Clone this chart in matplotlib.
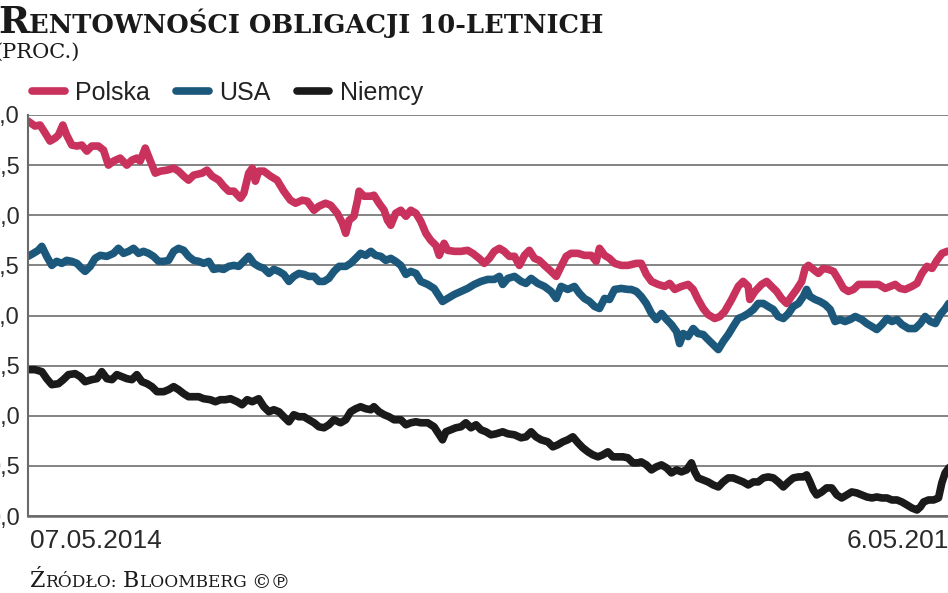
import matplotlib
matplotlib.use("Agg")
import matplotlib.pyplot as plt
import matplotlib.transforms as mtransforms
from matplotlib import font_manager

# days since 07.05.2014, 10y yields (proc.)
pl_days = [0.0, 2.7, 4.7, 6.7, 8.6, 10.6, 11.9, 13.6, 15.1, 17.1, 19.1, 21.0, 23.0, 24.9, 27.5, 29.5,
           31.4, 33.4, 36.0, 38.6, 40.6, 42.5, 43.8, 45.8, 47.8, 49.7, 51.7, 54.3, 56.9, 58.8, 60.8,
           62.7, 64.7, 68.0, 69.9, 71.9, 74.5, 76.4, 78.4, 80.4, 83.0, 84.3, 86.2, 87.6, 88.8, 90.1,
           92.1, 94.7, 97.3, 99.9, 102.5, 104.5, 107.1, 109.1, 111.7, 113.6, 116.2, 118.2, 120.8,
           122.8, 124.1, 125.4, 127.3, 128.7, 129.3, 131.2, 133.9, 135.1, 137.1, 139.1, 140.4, 141.7,
           143.6, 145.6, 147.6, 149.5, 151.5, 153.4, 155.4, 157.3, 159.3, 160.6, 162.5, 163.9, 166.5,
           169.1, 171.7, 173.7, 176.2, 178.2, 180.2, 182.1, 184.1, 186.0, 188.0, 190.0, 191.9, 193.9,
           195.8, 197.8, 199.7, 201.7, 204.3, 206.3, 208.2, 210.2, 212.1, 214.8, 217.3, 220.0, 221.9,
           223.2, 225.2, 227.1, 229.1, 231.7, 234.3, 237.6, 239.5, 241.5, 243.5, 246.1, 248.7, 250.6,
           252.6, 255.2, 257.8, 259.8, 261.7, 263.7, 265.6, 268.2, 270.2, 272.1, 274.8, 277.4, 279.3,
           281.3, 281.9, 283.9, 286.5, 288.5, 290.4, 292.4, 294.3, 296.3, 298.2, 300.2, 302.2, 303.5,
           304.8, 306.7, 308.7, 310.6, 312.6, 314.6, 316.5, 318.5, 320.4, 322.4, 324.4, 327.0, 329.6,
           332.2, 334.8, 336.8, 338.7, 340.6, 342.6, 345.2, 347.2, 349.1, 351.1, 353.1, 355.0, 357.0,
           359.0, 364.0]
pl_vals = [3.94, 3.89, 3.90, 3.82, 3.74, 3.77, 3.80, 3.90, 3.80, 3.70, 3.69, 3.70, 3.64, 3.69, 3.69, 3.65,
           3.50, 3.54, 3.57, 3.50, 3.55, 3.57, 3.54, 3.67, 3.54, 3.42, 3.44, 3.45, 3.47, 3.44, 3.39,
           3.35, 3.40, 3.42, 3.45, 3.39, 3.35, 3.29, 3.24, 3.24, 3.17, 3.22, 3.42, 3.47, 3.34, 3.44,
           3.44, 3.39, 3.35, 3.24, 3.15, 3.12, 3.15, 3.14, 3.05, 3.09, 3.12, 3.10, 3.02,
           2.92, 2.82, 2.95, 2.99, 3.15, 3.24, 3.19, 3.19, 3.20, 3.12, 3.05, 2.95, 2.90,
           3.02, 3.05, 2.99, 3.05, 3.02, 2.94, 2.82, 2.75, 2.70, 2.60, 2.72, 2.65, 2.64,
           2.64, 2.65, 2.62, 2.57, 2.52, 2.57, 2.64, 2.67, 2.64, 2.59, 2.59, 2.50, 2.60,
           2.65, 2.57, 2.55, 2.50, 2.44, 2.39, 2.49, 2.59, 2.62, 2.62, 2.60, 2.60, 2.54,
           2.67, 2.60, 2.57, 2.52, 2.50, 2.50, 2.52, 2.52, 2.41, 2.34, 2.31, 2.29, 2.32,
           2.26, 2.29, 2.31, 2.26, 2.16, 2.07, 2.01, 1.97, 1.99, 2.04, 2.16, 2.29, 2.34,
           2.29, 2.16, 2.24, 2.31, 2.34, 2.29, 2.24, 2.17, 2.12, 2.19, 2.26, 2.34, 2.47,
           2.50, 2.46, 2.42, 2.47, 2.46, 2.44, 2.36, 2.27, 2.24, 2.26, 2.31, 2.31, 2.31,
           2.31, 2.27, 2.29, 2.31, 2.27, 2.26, 2.29, 2.32, 2.42, 2.49, 2.47, 2.55, 2.62,
           2.64, 2.65]

us_days = [0.0, 2.1, 4.0, 5.4, 7.3, 9.3, 11.2, 13.2, 15.1, 17.1, 19.1, 21.0, 22.3, 24.3, 26.2, 28.2,
           30.8, 33.4, 35.3, 37.3, 39.3, 41.2, 43.2, 45.1, 47.1, 49.0, 51.0, 53.0, 54.9, 56.9, 58.8,
           60.8, 62.7, 64.7, 66.7, 68.6, 70.6, 72.5, 74.5, 76.4, 78.4, 80.4, 82.3, 84.3, 86.2, 88.2,
           90.1, 92.1, 94.1, 96.0, 98.0, 99.9, 101.9, 103.8, 105.8, 107.8, 109.7, 111.7, 113.6, 115.6,
           117.5, 119.5, 121.5, 124.1, 126.0, 128.0, 129.9, 131.9, 133.9, 135.8, 137.8, 139.7, 141.7,
           143.6, 145.6, 147.6, 149.5, 151.5, 153.4, 156.1, 158.6, 160.6, 161.9, 163.9, 166.5, 169.1,
           171.7, 174.3, 176.9, 179.5, 182.1, 184.1, 185.4, 187.4, 190.0, 192.6, 194.5, 196.5, 199.1,
           201.7, 204.3, 206.3, 208.2, 210.8, 213.4, 215.4, 217.3, 219.3, 221.3, 223.2, 225.2, 227.1,
           229.1, 231.7, 234.3, 235.6, 237.6, 239.5, 241.5, 243.5, 245.4, 247.4, 249.4, 251.3, 253.3,
           254.5, 255.9, 257.8, 259.8, 261.7, 263.7, 265.6, 267.6, 269.6, 271.5, 273.5, 275.4, 277.4,
           279.3, 281.3, 283.3, 285.2, 287.2, 289.1, 291.1, 293.0, 295.0, 297.0, 298.9, 300.9, 302.8,
           304.1, 305.4, 307.4, 309.3, 311.3, 313.3, 315.2, 317.2, 319.1, 321.1, 323.1, 325.6, 327.6,
           329.6, 331.5, 333.5, 335.5, 337.4, 339.4, 341.3, 343.9, 346.5, 348.5, 350.4, 352.4, 354.4,
           356.3, 358.3, 359.6, 364.0]
us_vals = [2.59, 2.62, 2.65, 2.69, 2.59, 2.50, 2.54, 2.52, 2.55, 2.54, 2.52, 2.47, 2.44, 2.49, 2.57, 2.60,
           2.59, 2.62, 2.67, 2.62, 2.64, 2.67, 2.62, 2.64, 2.62, 2.59, 2.54, 2.54, 2.55, 2.64, 2.67,
           2.65, 2.59, 2.55, 2.54, 2.52, 2.54, 2.46, 2.47, 2.46, 2.49, 2.50, 2.49, 2.54, 2.59, 2.52,
           2.49, 2.47, 2.42, 2.46, 2.44, 2.41, 2.34, 2.39, 2.42, 2.41, 2.39, 2.39, 2.34, 2.34,
           2.37, 2.44, 2.49, 2.49, 2.52, 2.57, 2.62, 2.60, 2.64, 2.60, 2.59, 2.55, 2.57,
           2.54, 2.50, 2.41, 2.44, 2.42, 2.34, 2.31, 2.27, 2.19, 2.14, 2.17, 2.21, 2.24,
           2.27, 2.31, 2.34, 2.36, 2.36, 2.39, 2.31, 2.37, 2.39, 2.34, 2.32, 2.37, 2.32,
           2.29, 2.24, 2.17, 2.29, 2.26, 2.29, 2.22, 2.17, 2.14, 2.09, 2.07, 2.17, 2.16,
           2.26, 2.27, 2.26, 2.26, 2.24, 2.19, 2.12, 2.02, 1.96, 2.02, 1.96, 1.91, 1.84,
           1.72, 1.82, 1.79, 1.87, 1.82, 1.81, 1.76, 1.71, 1.66, 1.74, 1.81, 1.89, 1.97,
           1.99, 2.02, 2.06, 2.12, 2.12, 2.09, 2.06, 1.99, 1.97, 2.02, 2.09, 2.12, 2.19,
           2.26, 2.19, 2.16, 2.14, 2.11, 2.06, 1.94, 1.96, 1.94, 1.96, 1.99, 1.96, 1.92,
           1.89, 1.86, 1.91, 1.97, 1.94, 1.96, 1.91, 1.87, 1.87, 1.92, 1.99, 1.94, 1.92,
           2.01, 2.07, 2.12, 2.20]

de_days = [0.0, 2.7, 5.4, 7.3, 9.3, 11.9, 13.8, 15.8, 18.4, 20.4, 22.3, 24.9, 26.9, 28.8, 30.8, 32.8,
           34.7, 36.7, 38.6, 40.6, 42.5, 44.5, 46.5, 48.4, 50.4, 53.0, 54.9, 56.9, 58.8, 60.8, 62.7,
           64.7, 66.7, 68.6, 71.2, 73.2, 75.1, 77.1, 79.1, 81.7, 83.6, 85.6, 87.6, 90.1, 92.1, 94.1,
           96.0, 98.0, 99.9, 101.9, 103.8, 105.8, 107.8, 109.7, 111.7, 113.6, 115.6, 117.5, 119.5,
           122.1, 124.1, 126.0, 128.0, 129.9, 131.9, 133.9, 135.1, 137.1, 139.1, 141.0, 143.0, 145.6,
           147.6, 149.5, 151.5, 153.4, 156.1, 158.6, 160.6, 161.9, 163.2, 165.2, 167.1, 169.1, 171.0,
           173.0, 175.0, 176.9, 178.9, 180.8, 182.8, 185.4, 187.4, 190.0, 192.6, 194.5, 196.5, 198.4,
           200.4, 203.0, 205.0, 206.9, 208.9, 210.8, 212.8, 214.8, 216.7, 218.7, 220.6, 222.6, 224.5,
           226.5, 228.4, 230.4, 232.4, 234.3, 236.3, 238.2, 239.5, 241.5, 243.5, 245.4, 247.4, 249.4,
           251.3, 253.3, 255.2, 257.2, 259.1, 260.4, 261.7, 263.7, 265.6, 267.6, 269.6, 271.5, 273.5,
           275.4, 277.4, 279.3, 281.3, 283.3, 285.2, 287.2, 289.1, 291.1, 293.0, 295.0, 297.0, 298.9,
           300.9, 302.8, 304.1, 305.4, 306.7, 308.0, 310.0, 311.9, 313.9, 315.9, 317.8, 319.8, 321.7,
           323.7, 325.6, 327.6, 329.6, 331.5, 333.5, 335.5, 337.4, 339.4, 341.3, 343.3, 345.2, 347.2,
           348.5, 349.8, 351.7, 353.7, 355.6, 356.9, 358.2, 359.6, 364.0]
de_vals = [1.46, 1.46, 1.44, 1.37, 1.31, 1.32, 1.36, 1.41, 1.42, 1.39, 1.34, 1.36, 1.37, 1.44, 1.37, 1.36,
           1.41, 1.39, 1.37, 1.36, 1.41, 1.34, 1.32, 1.29, 1.24, 1.24, 1.26, 1.29, 1.26, 1.22, 1.19,
           1.19, 1.19, 1.17, 1.16, 1.14, 1.16, 1.16, 1.17, 1.14, 1.11, 1.16, 1.14, 1.17, 1.09, 1.04,
           1.06, 1.04, 0.99, 0.94, 1.01, 0.99, 0.99, 0.96, 0.93, 0.89, 0.88, 0.91, 0.96,
           0.93, 0.96, 1.04, 1.07, 1.09, 1.07, 1.06, 1.09, 1.04, 1.01, 0.99, 0.96, 0.96,
           0.91, 0.93, 0.94, 0.93, 0.93, 0.89, 0.81, 0.76, 0.84, 0.86, 0.88, 0.89, 0.93,
           0.88, 0.91, 0.86, 0.84, 0.81, 0.82, 0.84, 0.82, 0.81, 0.78, 0.79, 0.84, 0.79,
           0.76, 0.74, 0.69, 0.71, 0.74, 0.76, 0.79, 0.73, 0.68, 0.64, 0.61, 0.59, 0.61,
           0.64, 0.59, 0.59, 0.59, 0.58, 0.53, 0.53, 0.54, 0.51, 0.46, 0.49, 0.51, 0.48,
           0.43, 0.46, 0.44, 0.46, 0.53, 0.44, 0.38, 0.36, 0.34, 0.31, 0.29, 0.34, 0.38,
           0.38, 0.36, 0.34, 0.31, 0.34, 0.34, 0.38, 0.39, 0.38, 0.34, 0.29, 0.34, 0.38,
           0.39, 0.39, 0.41, 0.34, 0.26, 0.21, 0.24, 0.28, 0.28, 0.21, 0.18, 0.21, 0.24,
           0.23, 0.21, 0.19, 0.18, 0.19, 0.18, 0.18, 0.16, 0.16, 0.14, 0.11, 0.08, 0.06,
           0.09, 0.14, 0.16, 0.16, 0.18, 0.33, 0.43, 0.48, 0.58]

series = [("Polska", pl_days, pl_vals, "#c8325c"),
          ("USA", us_days, us_vals, "#1b587c"),
          ("Niemcy", de_days, de_vals, "#1a1a1a")]

date_labels = ["07.05.2014", "6.05.2015"]
y_ticks = [0, 0.5, 1, 1.5, 2, 2.5, 3, 3.5, 4]

# condensed sans if we have it
names = {f.name for f in font_manager.fontManager.ttflist}
sans = ["Liberation Sans Narrow"] if "Liberation Sans Narrow" in names else ["Liberation Sans"]
serif = ["DejaVu Serif", "DejaVu Sans"]

W, H = 948, 593
fig = plt.figure(figsize=(W / 100, H / 100), dpi=100)
ax = fig.add_axes([28 / W, 1 - 516 / H, 932 / W, 401 / H])

for name, d, v, c in series:
    ax.plot(d, v, color=c, lw=5.5, label=name, solid_capstyle="round", solid_joinstyle="round")

ax.set_xlim(0, 364)
ax.set_ylim(0, 4)
ax.set_yticks(y_ticks)
ax.set_yticklabels([("%.1f" % t).replace(".", ",") for t in y_ticks],
                   family=sans, fontsize=17, color="#2a2a2a")
ax.set_xticks([0, 364])
ax.set_xticklabels(date_labels, family=sans, fontsize=19, color="#2a2a2a")
ax.tick_params(axis="both", length=0)
ax.tick_params(axis="x", pad=9)
ax.tick_params(axis="y", pad=6)
xl = ax.get_xticklabels()
xl[0].set_ha("left")
xl[1].set_ha("right")
# nudge: first label starts on the axis, last one runs past the right edge
xl[0].set_transform(xl[0].get_transform() + mtransforms.ScaledTranslation(2 / 100, 0, fig.dpi_scale_trans))
xl[1].set_transform(xl[1].get_transform() + mtransforms.ScaledTranslation(4 / 100, 0, fig.dpi_scale_trans))

ax.grid(axis="y", color="#7a7a7a", lw=1.3)
ax.set_axisbelow(True)
for s in ["top", "right"]:
    ax.spines[s].set_visible(False)
ax.spines["left"].set_color("#6a6a6a")
ax.spines["left"].set_linewidth(1.5)
ax.spines["bottom"].set_color("#6a6a6a")
ax.spines["bottom"].set_linewidth(1.8)

ax.legend(loc="center left", bbox_to_anchor=(32 / W, 1 - 93 / H), bbox_transform=fig.transFigure,
          ncol=3, frameon=False, handlelength=1.3, handletextpad=0.42, columnspacing=1.05,
          borderpad=0, borderaxespad=0, prop={"family": sans, "size": 18})
for t in ax.get_legend().get_texts():
    t.set_color("#222222")


def small_caps(parts, x_px, base_px, weight, end_px=None):
    # parts: (text, fontsize, gap_px before); scaled so the run ends at end_px
    r = fig.canvas.get_renderer()
    scale = 1.0
    for attempt in range(2):
        x = x_px
        made = []
        for txt, size, gap in parts:
            x += gap
            t = fig.text(x / W, 1 - base_px / H, txt, fontsize=size * scale, family=serif,
                         fontweight=weight, va="baseline", ha="left", color="#1a1a1a")
            made.append(t)
            x = t.get_window_extent(renderer=r).x1
        if end_px is None or attempt == 1:
            break
        scale = (end_px - x_px) / (x - x_px)
        for t in made:
            t.remove()


fig.canvas.draw()
small_caps([("R", 24, 0), ("ENTOWNOŚCI OBLIGACJI 10-LETNICH", 16.5, 0)], -2, 33, "bold", 603)
small_caps([("(PROC.)", 16, 0)], -6, 58, "normal", 80)
small_caps([("Ź", 13, 0), ("RÓDŁO:", 10, 0), ("B", 13, 6), ("LOOMBERG", 10, 0)],
           30, 587, "normal", 248)
fig.text(251 / W, 1 - 588 / H, "©℗", fontsize=14, family=serif, va="baseline", ha="left",
         color="#1a1a1a")

fig.savefig("out.png", dpi=100)
